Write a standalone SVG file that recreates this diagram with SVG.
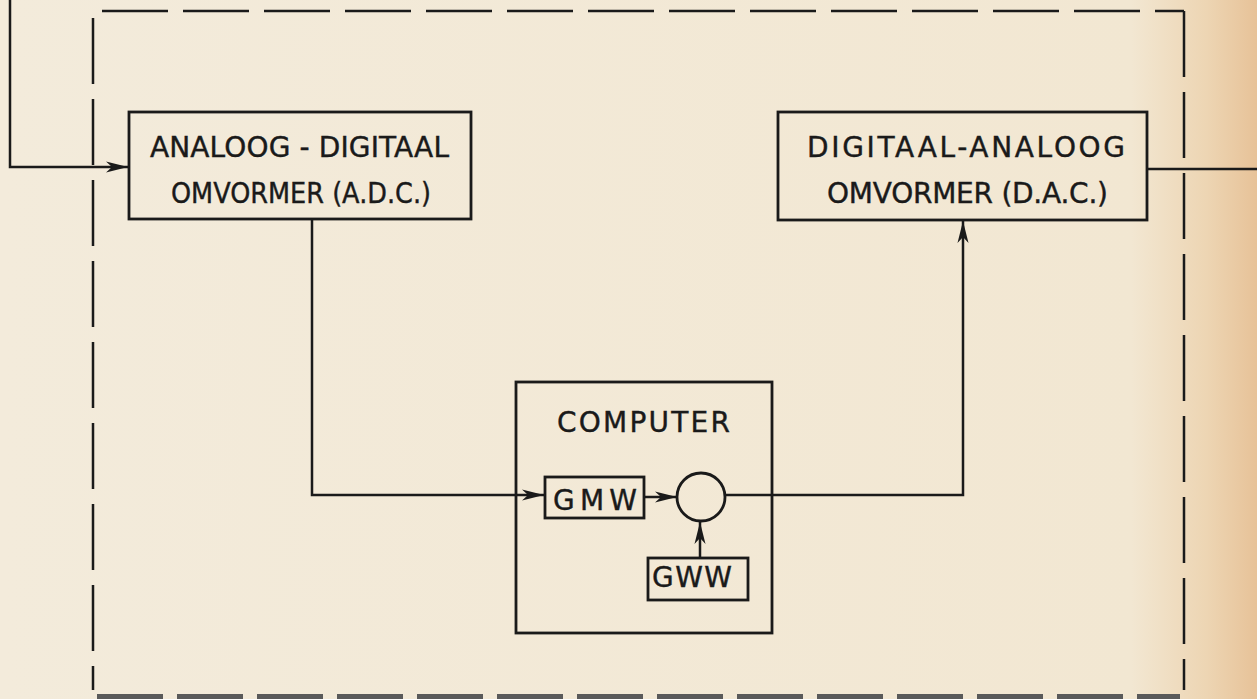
<svg xmlns="http://www.w3.org/2000/svg" width="1257" height="699" viewBox="0 0 1257 699">
<defs>
<linearGradient id="bg" x1="0" y1="0" x2="1" y2="0">
<stop offset="0" stop-color="#f3ebdb"/>
<stop offset="0.9" stop-color="#f2e7d2"/>
<stop offset="0.96" stop-color="#edd5b3"/>
<stop offset="1" stop-color="#e7c298"/>
</linearGradient>
<marker id="arr" viewBox="0 0 22 12" refX="22" refY="6" markerWidth="22" markerHeight="12" markerUnits="userSpaceOnUse" orient="auto">
<path d="M0,0.5 L22,6 L0,11.5 L6,6 Z" fill="#1a1a1a"/>
</marker>
<style>
.ln{fill:none;stroke:#1a1a1a;stroke-width:2.5}
.bx{fill:none;stroke:#1a1a1a;stroke-width:2.8}
.dash{fill:none;stroke:#1a1a1a;stroke-width:2.5;stroke-dasharray:66 15}
.t{font-family:"DejaVu Sans","Liberation Sans",sans-serif;font-size:28px;fill:#1a1a1a;stroke:#1a1a1a;stroke-width:0.4}
</style>
</defs>
<rect width="1257" height="699" fill="url(#bg)"/>
<g id="boundary">
<path class="dash" d="M102,11 H1184"/>
<path class="dash" d="M1184,11 V690"/>
<path class="dash" d="M93,18 V690"/>
<path d="M97,697 H1180" fill="none" stroke="#5a5a5a" stroke-width="6" stroke-dasharray="66 14"/>
</g>
<g id="connectors">
<path class="ln" d="M10,0 V167 H128" marker-end="url(#arr)"/>
<path class="ln" d="M312,219 V495 H544" marker-end="url(#arr)"/>
<path class="ln" d="M644,497 H677" marker-end="url(#arr)"/>
<path class="ln" d="M700,558 V522" marker-end="url(#arr)"/>
<path class="ln" d="M725,495 H963 V221" marker-end="url(#arr)"/>
<path class="ln" d="M1147,169 H1257"/>
</g>
<g id="adc">
<rect class="bx" x="129" y="112" width="342" height="107"/>
<text class="t" x="150" y="157" textLength="299" lengthAdjust="spacing">ANALOOG - DIGITAAL</text>
<text class="t" x="171" y="203" textLength="260" lengthAdjust="spacingAndGlyphs">OMVORMER (A.D.C.)</text>
</g>
<g id="dac">
<rect class="bx" x="778" y="112" width="369" height="108"/>
<text class="t" x="807" y="157" textLength="318" lengthAdjust="spacing">DIGITAAL-ANALOOG</text>
<text class="t" x="827" y="203" textLength="281" lengthAdjust="spacing">OMVORMER (D.A.C.)</text>
</g>
<g id="computer">
<rect class="bx" x="516" y="382" width="256" height="251"/>
<text class="t" x="557" y="432" textLength="173" lengthAdjust="spacing">COMPUTER</text>
</g>
<g id="gmw">
<rect class="bx" x="545" y="477" width="99" height="41"/>
<text class="t" x="553" y="510" textLength="84" lengthAdjust="spacing">GMW</text>
</g>
<g id="sum">
<circle class="bx" cx="701" cy="497" r="24"/>
</g>
<g id="gww">
<rect class="bx" x="648" y="558" width="100" height="42"/>
<text class="t" x="652" y="587" textLength="80" lengthAdjust="spacing">GWW</text>
</g>
</svg>
